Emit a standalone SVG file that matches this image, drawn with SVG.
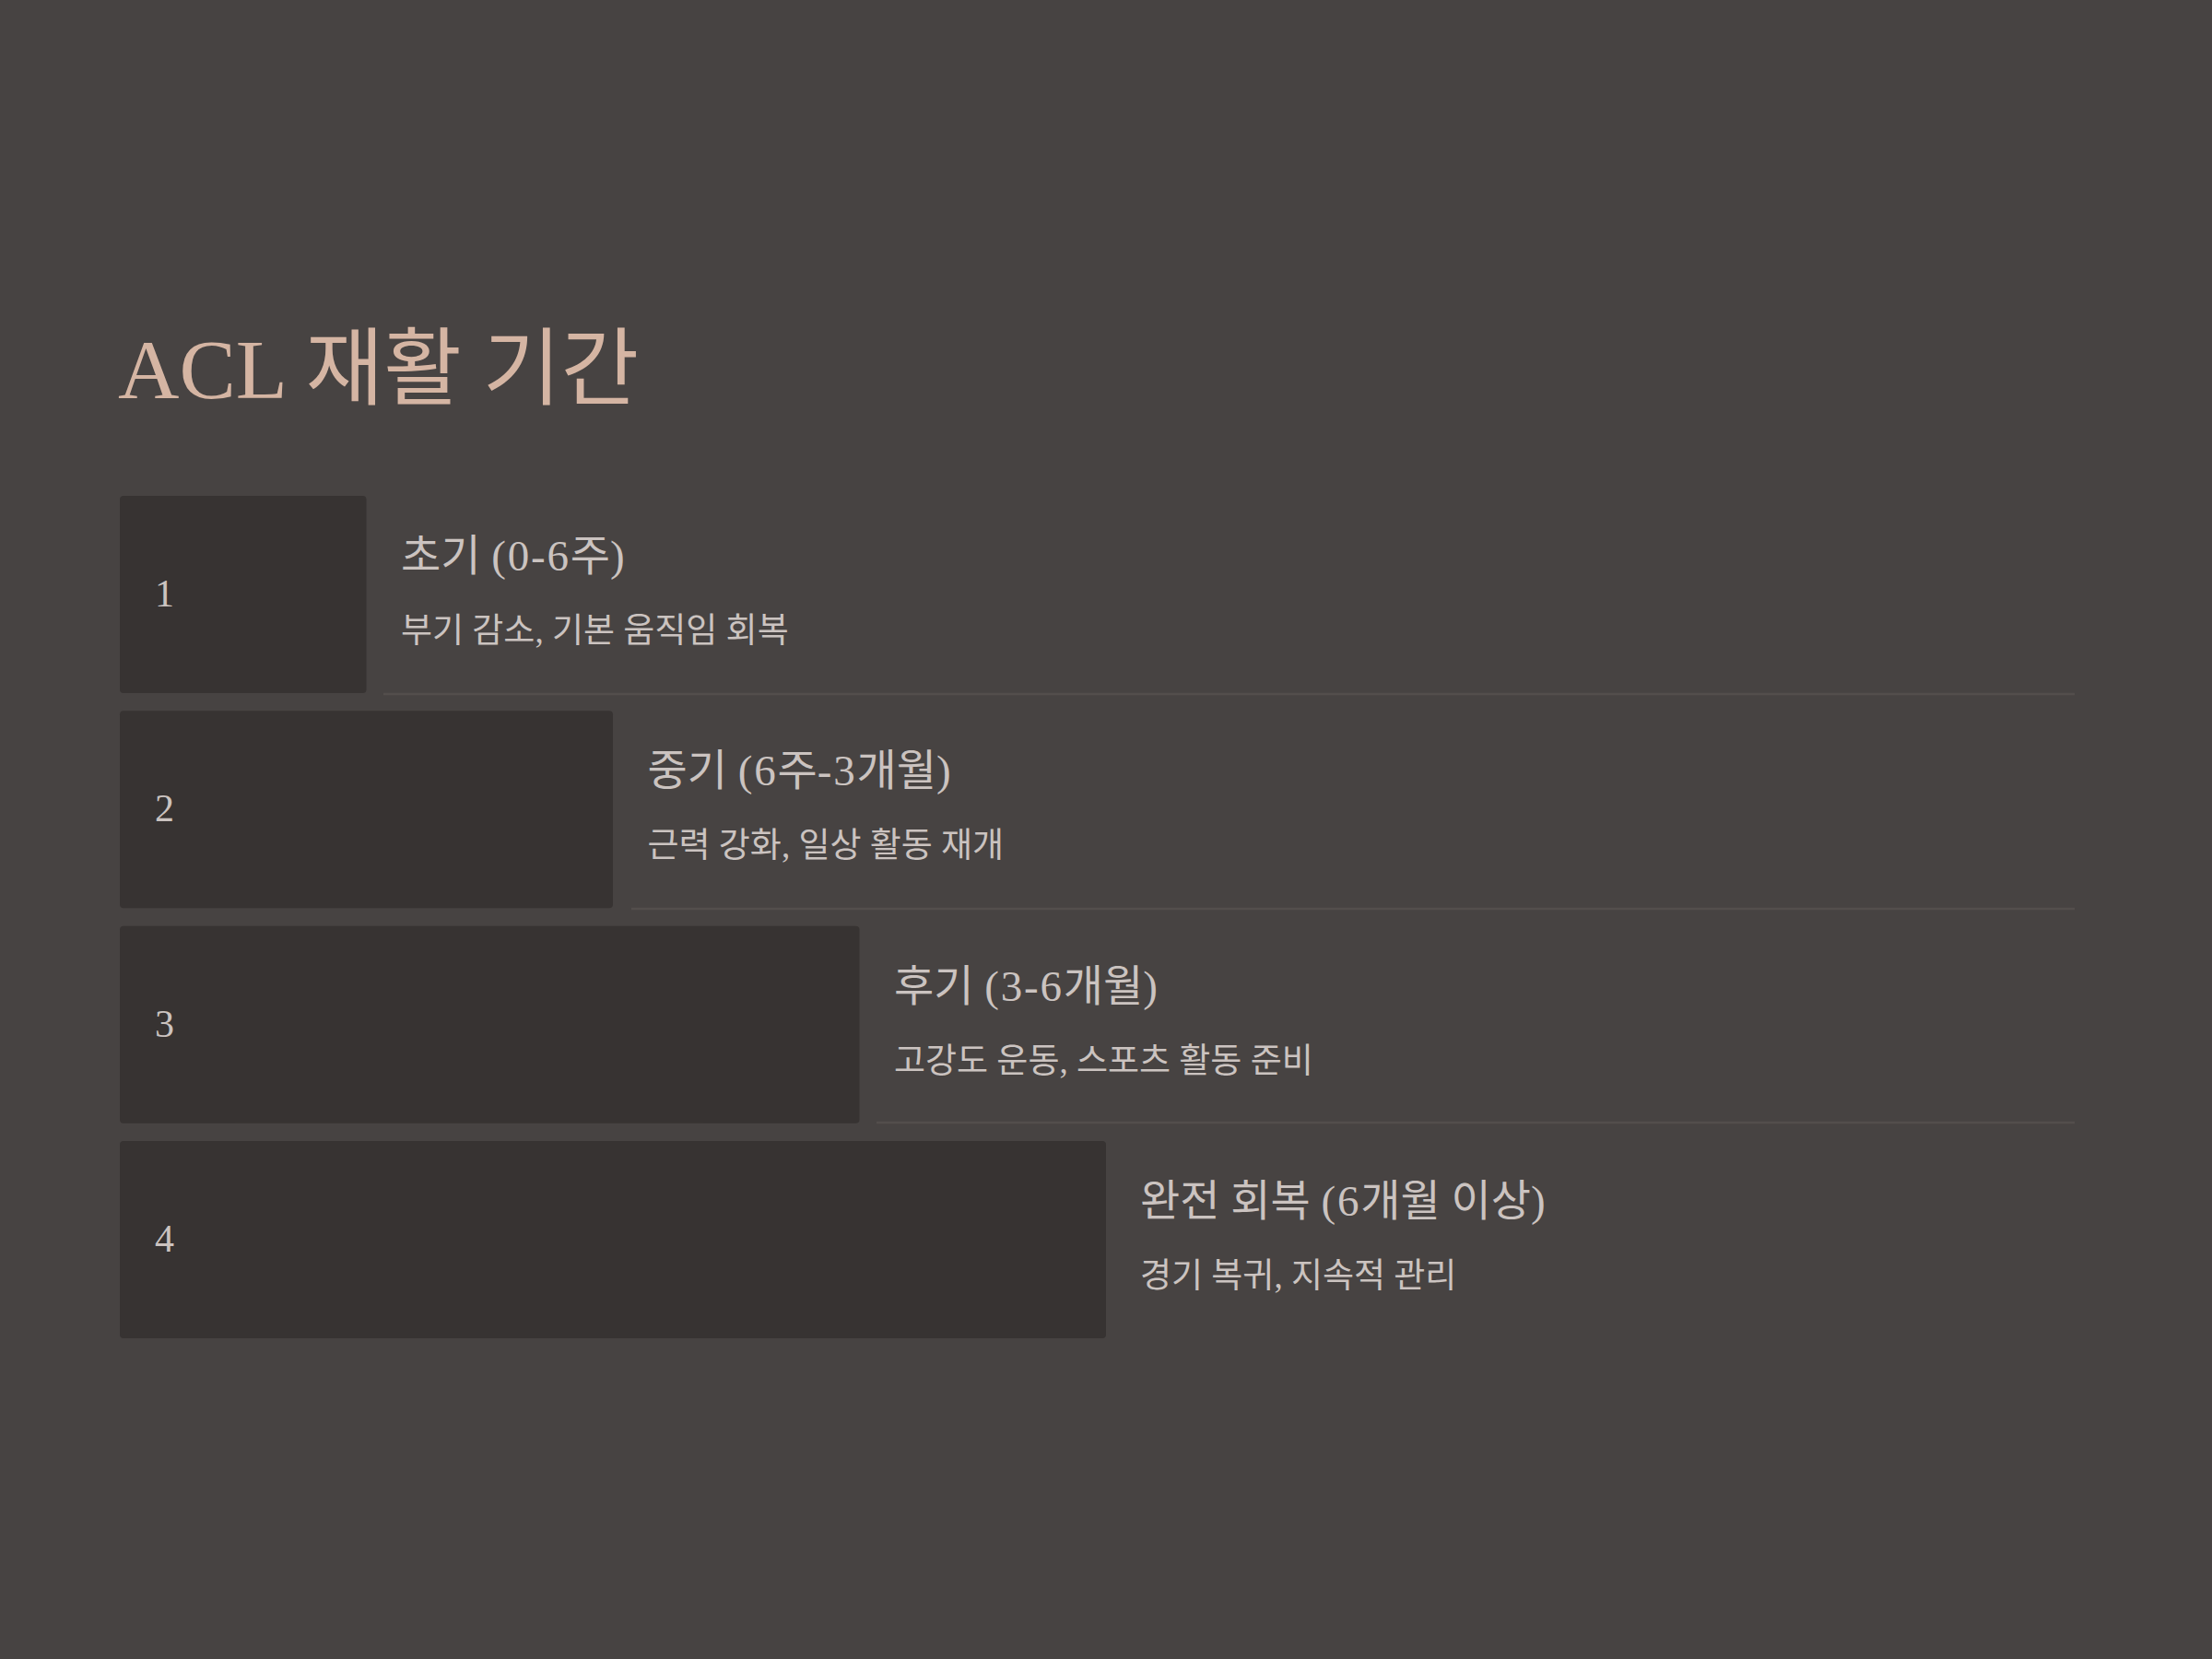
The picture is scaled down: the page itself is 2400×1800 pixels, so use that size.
<svg xmlns="http://www.w3.org/2000/svg" width="2400" height="1800" viewBox="0 0 2400 1800">
<style>
  .bg { fill: #474342; }
  .box { fill: #373332; }
  .sep { stroke: #534e4c; stroke-width: 2.5; }
  .title { font-family: "Liberation Serif", "Noto Sans CJK KR", serif; font-size: 92px; fill: #d5b5a3; }
  .num { font-family: "Liberation Serif", "Noto Sans CJK KR", serif; font-size: 42px; fill: #cbc3c0; }
  .head { font-family: "Liberation Serif", "Noto Sans CJK KR", serif; font-size: 47px; fill: #cbc3c0; }
  .lat { letter-spacing: 1.8px; }
  .desc { font-family: "Liberation Serif", "Noto Sans CJK KR", sans-serif; font-size: 37px; fill: #cbc3c0; }
</style>
<rect class="bg" x="0" y="0" width="2400" height="1800"/>
<text id="title" class="title" x="128" y="432">ACL 재활 기간</text>
<g id="connectors">
  <line class="sep" x1="416" y1="753" x2="2251" y2="753"/>
  <line class="sep" x1="685" y1="986" x2="2251" y2="986"/>
  <line class="sep" x1="951" y1="1218" x2="2251" y2="1218"/>
</g>
<g id="step1">
  <rect class="box" x="130" y="538" width="267.5" height="214" rx="4"/>
  <text class="num" x="168" y="658">1</text>
  <text class="head" x="435" y="619">초기 <tspan class="lat">(0-6</tspan>주<tspan class="lat">)</tspan></text>
  <text class="desc" x="435" y="697">부기 감소, 기본 움직임 회복</text>
</g>
<g id="step2">
  <rect class="box" x="130" y="771.3" width="535" height="214" rx="4"/>
  <text class="num" x="168" y="891.3">2</text>
  <text class="head" x="702.5" y="852.3">중기 <tspan class="lat">(6</tspan>주<tspan class="lat">-3</tspan>개월<tspan class="lat">)</tspan></text>
  <text class="desc" x="702.5" y="930.3">근력 강화, 일상 활동 재개</text>
</g>
<g id="step3">
  <rect class="box" x="130" y="1004.7" width="802.5" height="214" rx="4"/>
  <text class="num" x="168" y="1124.7">3</text>
  <text class="head" x="970" y="1085.7">후기 <tspan class="lat">(3-6</tspan>개월<tspan class="lat">)</tspan></text>
  <text class="desc" x="970" y="1163.7">고강도 운동, 스포츠 활동 준비</text>
</g>
<g id="step4">
  <rect class="box" x="130" y="1238" width="1070" height="214" rx="4"/>
  <text class="num" x="168" y="1358">4</text>
  <text class="head" x="1237" y="1319">완전 회복 <tspan class="lat">(6</tspan>개월 이상<tspan class="lat">)</tspan></text>
  <text class="desc" x="1237" y="1397">경기 복귀, 지속적 관리</text>
</g>
</svg>
